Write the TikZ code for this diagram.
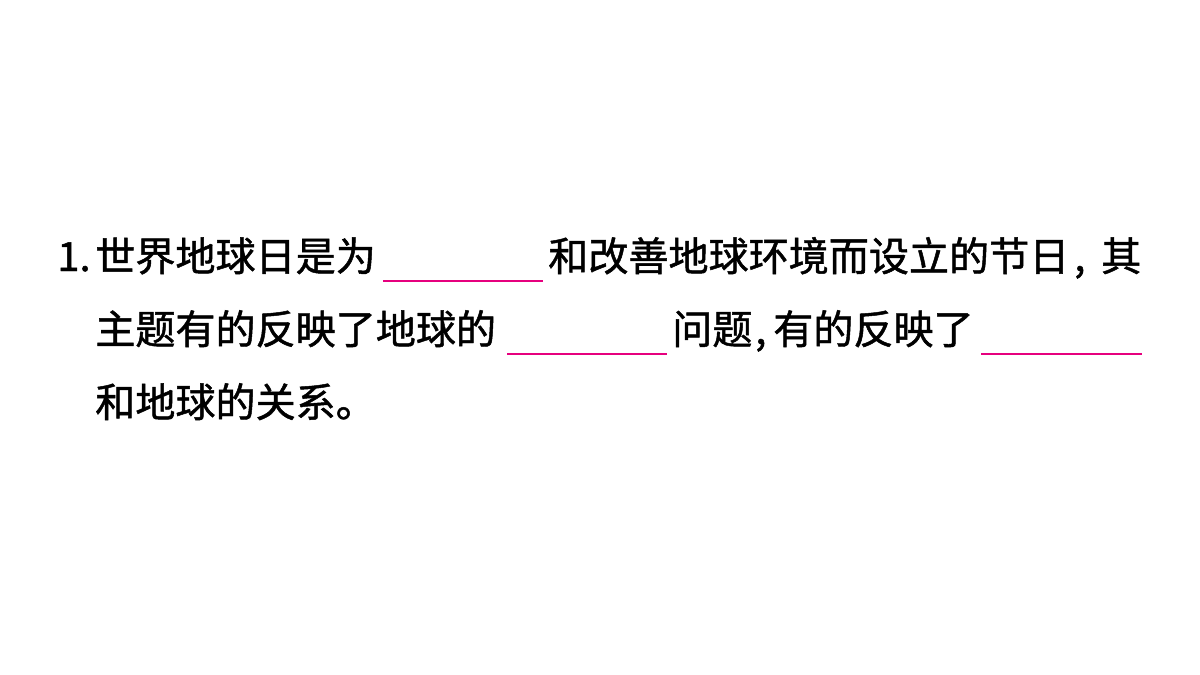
\documentclass[tikz,border=0pt]{standalone}
\usepackage{fontspec}
\newfontfamily\cjk[FakeBold=1.2]{Noto Sans CJK SC}
\definecolor{blankpink}{RGB}{230,0,126}
\tikzset{txt/.style={anchor=base west, inner sep=0pt, font=\cjk\fontsize{28.5pt}{34pt}\selectfont},
  blank/.style={draw=blankpink, line width=0.9pt}}
\begin{document}
\begin{tikzpicture}[x=0.025cm,y=-0.025cm]
\useasboundingbox (0,0) rectangle (1200,675);
%Line one
\node[txt] (n1) at (57,271){1.};
\node[txt] (t1) at (95,271){世界地球日是为};
\coordinate (b1a) at (383,281); \coordinate (b1b) at (543,281);
\draw[blank] (b1a) -- (b1b);
\node[txt] (t2) at (548,271){和改善地球环境而设立的节日};
\node[txt] (t3) at (1074,271){,};
\node[txt] (t4) at (1101,271){其};
%Line two
\node[txt] (t5) at (95,344){主题有的反映了地球的};
\coordinate (b2a) at (507,354); \coordinate (b2b) at (667,354);
\draw[blank] (b2a) -- (b2b);
\node[txt] (t6) at (672,344){问题};
\node[txt] (t7) at (755,344){,};
\node[txt] (t8) at (773,344){有的反映了};
\coordinate (b3a) at (981,354); \coordinate (b3b) at (1142,354);
\draw[blank] (b3a) -- (b3b);
%Line three
\node[txt] (t9) at (95,417){和地球的关系。};
\end{tikzpicture}
\end{document}
